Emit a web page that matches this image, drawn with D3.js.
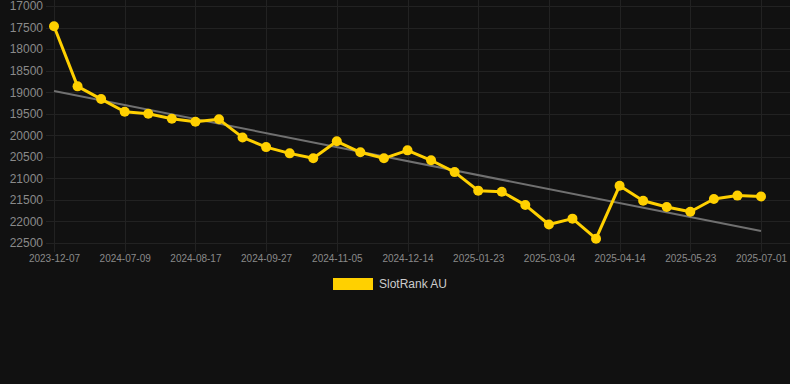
<!DOCTYPE html>
<html>
<head>
<meta charset="utf-8">
<script src="https://cdn.jsdelivr.net/npm/d3@7"></script>
<style>
  html, body { margin: 0; padding: 0; background: #111111; }
  svg { display: block; font-family: "Liberation Sans", Arial, sans-serif; }
</style>
</head>
<body>
<svg id="chart" width="790" height="384"></svg>
<script>
// categories (x axis), only every third one is labelled
const dates = [
  '2023-12-07', '2024-06-13', '2024-06-26', '2024-07-09', '2024-07-22', '2024-08-04',
  '2024-08-17', '2024-08-31', '2024-09-13', '2024-09-27', '2024-10-10', '2024-10-23',
  '2024-11-05', '2024-11-18', '2024-12-01', '2024-12-14', '2024-12-27', '2025-01-10',
  '2025-01-23', '2025-02-05', '2025-02-18', '2025-03-04', '2025-03-18', '2025-03-31',
  '2025-04-14', '2025-04-27', '2025-05-10', '2025-05-23', '2025-06-05', '2025-06-18',
  '2025-07-01',
]

// SlotRank AU rank values
const rankAU = [
  17470, 18865, 19160, 19455, 19500, 19615, 19685, 19630, 20050, 20275, 20420,
  20535, 20140, 20395, 20535, 20350, 20580, 20855, 21285, 21310, 21620, 22070,
  21935, 22400, 21170, 21520, 21665, 21775, 21480, 21400, 21420,
]

const yTicks = [17000, 17500, 18000, 18500, 19000, 19500, 20000, 20500, 21000, 21500, 22000, 22500]
const seriesName = 'SlotRank AU'

const width = 790
const yellow = '#ffd000'
const gridColor = '#222222'
const labelColor = '#8a8a8a'

const svg = d3.select('#chart')

// 比例尺
const x = d3.scalePoint().domain(dates).range([54, 761])
const y = d3.scaleLinear().domain([17000, 22500]).range([6, 243])

// 网格
const grid = svg.append('g').attr('class', 'grid')
grid.selectAll('line.h')
  .data(yTicks)
  .join('line')
  .attr('class', 'h')
  .attr('x1', 46).attr('x2', width)
  .attr('y1', (d) => Math.round(y(d)) + 0.5)
  .attr('y2', (d) => Math.round(y(d)) + 0.5)
  .attr('stroke', gridColor)

const labelled = dates.filter((d, i) => i % 3 === 0)
grid.selectAll('line.v')
  .data(labelled)
  .join('line')
  .attr('class', 'v')
  .attr('x1', (d) => Math.round(x(d)) + 0.5)
  .attr('x2', (d) => Math.round(x(d)) + 0.5)
  .attr('y1', 0).attr('y2', 252)
  .attr('stroke', gridColor)

// y 轴
const yAxis = svg.append('g')
  .attr('transform', 'translate(43,0)')
  .call(d3.axisLeft(y).tickValues(yTicks).tickSize(0).tickPadding(0).tickFormat(d3.format('d')))
yAxis.select('.domain').remove()
yAxis.selectAll('text').attr('fill', labelColor).attr('font-size', 12)
  .attr('font-family', '"Liberation Sans", Arial, sans-serif')

// x 轴
const xAxis = svg.append('g')
  .attr('transform', 'translate(0,253)')
  .call(d3.axisBottom(x).tickValues(labelled).tickSize(0).tickPadding(2))
xAxis.select('.domain').remove()
xAxis.selectAll('text').attr('fill', labelColor).attr('font-size', 10)
  .attr('font-family', '"Liberation Sans", Arial, sans-serif')

// 趋势线 (least squares)
const idx = rankAU.map((d, i) => i)
const mx = d3.mean(idx)
const my = d3.mean(rankAU)
const slope = d3.sum(idx, (i) => (i - mx) * (rankAU[i] - my)) / d3.sum(idx, (i) => (i - mx) ** 2)
const trend = [0, dates.length - 1].map((i) => ({date: dates[i], value: my + slope * (i - mx)}))

svg.append('path')
  .datum(trend)
  .attr('fill', 'none')
  .attr('stroke', '#707070')
  .attr('stroke-width', 2)
  .attr('d', d3.line().x((d) => x(d.date)).y((d) => y(d.value)))

// 数据线
const points = dates.map((d, i) => ({date: d, value: rankAU[i]}))
svg.append('path')
  .datum(points)
  .attr('fill', 'none')
  .attr('stroke', yellow)
  .attr('stroke-width', 3)
  .attr('stroke-linejoin', 'round')
  .attr('d', d3.line().x((d) => x(d.date)).y((d) => y(d.value)))

svg.append('g')
  .selectAll('circle')
  .data(points)
  .join('circle')
  .attr('cx', (d) => x(d.date))
  .attr('cy', (d) => y(d.value))
  .attr('r', 5)
  .attr('fill', yellow)

// 图例
const legend = svg.append('g').attr('transform', 'translate(333,278)')
legend.append('rect').attr('width', 40).attr('height', 12).attr('fill', yellow)
legend.append('text')
  .attr('x', 46).attr('y', 6)
  .attr('dominant-baseline', 'central')
  .attr('font-size', 12)
  .attr('fill', '#cccccc')
  .text(seriesName)
</script>
</body>
</html>
